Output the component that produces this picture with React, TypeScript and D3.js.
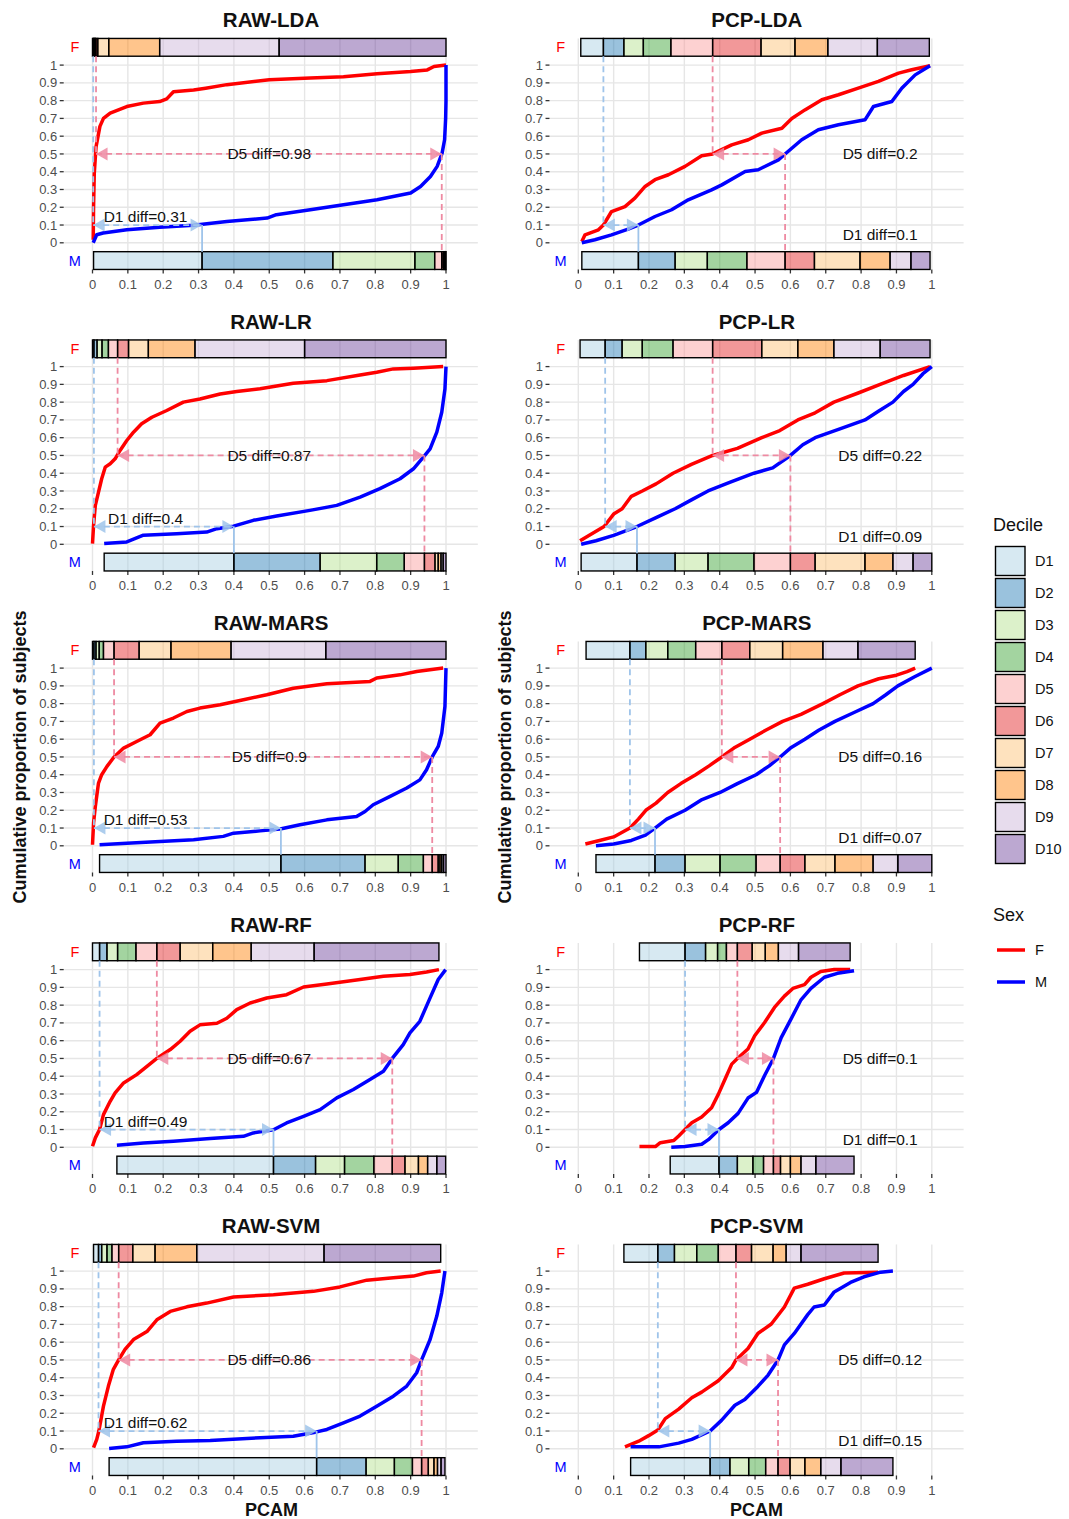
import React from "react";
import * as d3 from "d3";

type Pt = [number, number];

// ---------- values ----------
const decileLabels = ["D1", "D2", "D3", "D4", "D5", "D6", "D7", "D8", "D9", "D10"];
const decileColors = ["#A6CEE3", "#1F78B4", "#B2DF8A", "#33A02C", "#FB9A99", "#E31A1C", "#FDBF6F", "#FF7F00", "#CAB2D6", "#6A3D9A"];
const sexLabels = ["F", "M"];
const sexColors = ["#ff0000", "#0000ff"];
const tickValues = [0, 0.1, 0.2, 0.3, 0.4, 0.5, 0.6, 0.7, 0.8, 0.9, 1];
const tickLabels = ["0", "0.1", "0.2", "0.3", "0.4", "0.5", "0.6", "0.7", "0.8", "0.9", "1"];

const panelTitles = ["RAW-LDA", "PCP-LDA", "RAW-LR", "PCP-LR", "RAW-MARS", "PCP-MARS", "RAW-RF", "PCP-RF", "RAW-SVM", "PCP-SVM"];
const d1Diffs = ["0.31", "0.1", "0.4", "0.09", "0.53", "0.07", "0.49", "0.1", "0.62", "0.15"];
const d5Diffs = ["0.98", "0.2", "0.87", "0.22", "0.9", "0.16", "0.67", "0.1", "0.86", "0.12"];

// RAW-LDA
const rawLdaF: Pt[] = [[0.002, 0.017], [0.003, 0.2], [0.005, 0.39], [0.01, 0.54], [0.021, 0.655], [0.031, 0.7], [0.05, 0.73], [0.097, 0.767], [0.144, 0.786], [0.19, 0.795], [0.21, 0.81], [0.229, 0.85], [0.286, 0.86], [0.32, 0.87], [0.38, 0.89], [0.5, 0.917], [0.616, 0.927], [0.71, 0.935], [0.805, 0.951], [0.9, 0.964], [0.947, 0.973], [0.966, 0.992], [1.0, 1.0]];
const rawLdaM: Pt[] = [[0.002, 0.0], [0.012, 0.045], [0.03, 0.055], [0.097, 0.073], [0.19, 0.088], [0.286, 0.099], [0.38, 0.12], [0.494, 0.139], [0.52, 0.158], [0.616, 0.186], [0.71, 0.214], [0.805, 0.242], [0.9, 0.28], [0.928, 0.317], [0.956, 0.373], [0.975, 0.43], [0.989, 0.505], [0.996, 0.58], [0.999, 0.7], [1.0, 0.8], [1.0, 1.0]];
const rawLdaFDec = [0, 0.002, 0.004, 0.006, 0.008, 0.01, 0.015, 0.046, 0.19, 0.528, 1.0];
const rawLdaMDec = [0.003, 0.31, 0.68, 0.912, 0.968, 0.988, 0.992, 0.995, 0.997, 0.999, 1.0];

// PCP-LDA
const pcpLdaF: Pt[] = [[0.01, 0.007], [0.019, 0.045], [0.057, 0.073], [0.071, 0.1], [0.094, 0.176], [0.132, 0.204], [0.16, 0.251], [0.189, 0.317], [0.217, 0.355], [0.255, 0.383], [0.302, 0.43], [0.349, 0.49], [0.38, 0.5], [0.434, 0.551], [0.481, 0.58], [0.519, 0.617], [0.576, 0.645], [0.604, 0.7], [0.641, 0.748], [0.689, 0.805], [0.736, 0.833], [0.792, 0.87], [0.849, 0.908], [0.906, 0.955], [0.943, 0.974], [0.995, 0.996]];
const pcpLdaM: Pt[] = [[0.01, 0.0], [0.047, 0.017], [0.094, 0.045], [0.141, 0.077], [0.17, 0.1], [0.217, 0.148], [0.264, 0.186], [0.311, 0.242], [0.377, 0.298], [0.406, 0.326], [0.472, 0.401], [0.509, 0.411], [0.566, 0.467], [0.585, 0.5], [0.632, 0.58], [0.679, 0.636], [0.736, 0.664], [0.811, 0.692], [0.835, 0.767], [0.887, 0.795], [0.915, 0.87], [0.953, 0.945], [0.995, 0.996]];
const pcpLdaFDec = [0.007, 0.071, 0.129, 0.184, 0.262, 0.38, 0.517, 0.613, 0.706, 0.846, 0.993];
const pcpLdaMDec = [0.01, 0.17, 0.274, 0.365, 0.477, 0.585, 0.668, 0.797, 0.882, 0.941, 0.995];

// RAW-LR
const rawLrF: Pt[] = [[0.0, 0.004], [0.003, 0.107], [0.008, 0.219], [0.017, 0.294], [0.026, 0.369], [0.036, 0.434], [0.05, 0.453], [0.064, 0.481], [0.078, 0.528], [0.097, 0.584], [0.116, 0.631], [0.139, 0.678], [0.168, 0.715], [0.21, 0.753], [0.257, 0.8], [0.304, 0.818], [0.361, 0.846], [0.408, 0.86], [0.474, 0.875], [0.568, 0.906], [0.663, 0.921], [0.757, 0.953], [0.804, 0.968], [0.851, 0.987], [0.908, 0.991], [0.992, 1.0]];
const rawLrM: Pt[] = [[0.033, 0.004], [0.097, 0.013], [0.144, 0.051], [0.238, 0.06], [0.323, 0.069], [0.352, 0.088], [0.399, 0.102], [0.455, 0.135], [0.521, 0.159], [0.615, 0.191], [0.691, 0.219], [0.757, 0.266], [0.813, 0.313], [0.87, 0.369], [0.908, 0.425], [0.936, 0.491], [0.955, 0.537], [0.974, 0.631], [0.988, 0.743], [0.997, 0.874], [1.0, 1.0]];
const rawLrFDec = [0.0, 0.004, 0.013, 0.027, 0.045, 0.071, 0.102, 0.158, 0.29, 0.6, 1.0];
const rawLrMDec = [0.033, 0.4, 0.644, 0.804, 0.882, 0.939, 0.969, 0.978, 0.986, 0.992, 1.0];

// PCP-LR
const pcpLrF: Pt[] = [[0.005, 0.02], [0.03, 0.05], [0.073, 0.1], [0.1, 0.17], [0.124, 0.2], [0.15, 0.27], [0.181, 0.3], [0.22, 0.34], [0.268, 0.4], [0.32, 0.45], [0.38, 0.5], [0.45, 0.54], [0.519, 0.6], [0.57, 0.64], [0.621, 0.7], [0.67, 0.74], [0.723, 0.8], [0.79, 0.85], [0.854, 0.9], [0.92, 0.95], [0.995, 1.0]];
const pcpLrM: Pt[] = [[0.008, 0.0], [0.05, 0.02], [0.1, 0.05], [0.166, 0.1], [0.22, 0.15], [0.274, 0.2], [0.32, 0.25], [0.367, 0.3], [0.43, 0.35], [0.497, 0.4], [0.55, 0.43], [0.6, 0.5], [0.635, 0.56], [0.67, 0.6], [0.74, 0.65], [0.811, 0.7], [0.85, 0.75], [0.89, 0.8], [0.92, 0.86], [0.947, 0.9], [0.975, 0.96], [1.0, 1.0]];
const pcpLrFDec = [0.005, 0.076, 0.124, 0.181, 0.268, 0.38, 0.519, 0.621, 0.723, 0.854, 0.995];
const pcpLrMDec = [0.008, 0.166, 0.274, 0.367, 0.497, 0.6, 0.67, 0.811, 0.89, 0.947, 1.0];

// RAW-MARS
const rawMarsF: Pt[] = [[0.0, 0.006], [0.003, 0.128], [0.008, 0.221], [0.017, 0.353], [0.026, 0.4], [0.041, 0.447], [0.061, 0.5], [0.088, 0.55], [0.125, 0.587], [0.163, 0.625], [0.191, 0.69], [0.229, 0.719], [0.267, 0.756], [0.304, 0.775], [0.361, 0.794], [0.427, 0.822], [0.493, 0.85], [0.568, 0.887], [0.663, 0.912], [0.785, 0.925], [0.804, 0.944], [0.87, 0.962], [0.917, 0.981], [0.992, 1.0]];
const rawMarsM: Pt[] = [[0.02, 0.006], [0.097, 0.015], [0.191, 0.024], [0.286, 0.034], [0.37, 0.053], [0.399, 0.071], [0.474, 0.084], [0.531, 0.095], [0.587, 0.118], [0.663, 0.146], [0.747, 0.165], [0.771, 0.193], [0.794, 0.231], [0.842, 0.278], [0.889, 0.325], [0.926, 0.371], [0.945, 0.428], [0.961, 0.5], [0.978, 0.559], [0.988, 0.634], [0.997, 0.784], [1.0, 1.0]];
const rawMarsFDec = [0.0, 0.004, 0.01, 0.019, 0.031, 0.061, 0.132, 0.222, 0.392, 0.66, 1.0];
const rawMarsMDec = [0.02, 0.533, 0.771, 0.865, 0.936, 0.961, 0.978, 0.983, 0.988, 0.993, 1.0];

// PCP-MARS
const pcpMarsF: Pt[] = [[0.02, 0.01], [0.06, 0.03], [0.1, 0.05], [0.146, 0.1], [0.17, 0.15], [0.191, 0.2], [0.22, 0.24], [0.253, 0.3], [0.29, 0.35], [0.332, 0.4], [0.37, 0.45], [0.406, 0.5], [0.44, 0.55], [0.485, 0.6], [0.53, 0.65], [0.578, 0.7], [0.63, 0.74], [0.692, 0.8], [0.74, 0.85], [0.791, 0.9], [0.85, 0.94], [0.9, 0.96], [0.93, 0.98], [0.953, 1.0]];
const pcpMarsM: Pt[] = [[0.05, 0.0], [0.1, 0.01], [0.15, 0.03], [0.19, 0.06], [0.217, 0.1], [0.25, 0.15], [0.302, 0.2], [0.35, 0.26], [0.401, 0.3], [0.45, 0.35], [0.503, 0.4], [0.54, 0.45], [0.571, 0.5], [0.6, 0.55], [0.641, 0.6], [0.68, 0.65], [0.726, 0.7], [0.78, 0.75], [0.834, 0.8], [0.87, 0.85], [0.904, 0.9], [0.95, 0.95], [1.0, 1.0]];
const pcpMarsFDec = [0.022, 0.146, 0.191, 0.253, 0.332, 0.406, 0.485, 0.578, 0.692, 0.791, 0.953];
const pcpMarsMDec = [0.05, 0.217, 0.302, 0.401, 0.503, 0.571, 0.641, 0.726, 0.834, 0.904, 1.0];

// RAW-RF
const rawRfF: Pt[] = [[0.0, 0.006], [0.008, 0.053], [0.02, 0.1], [0.031, 0.184], [0.05, 0.259], [0.064, 0.306], [0.088, 0.362], [0.125, 0.409], [0.154, 0.456], [0.182, 0.5], [0.22, 0.55], [0.248, 0.597], [0.276, 0.653], [0.304, 0.689], [0.352, 0.698], [0.38, 0.726], [0.408, 0.775], [0.446, 0.812], [0.493, 0.84], [0.549, 0.859], [0.597, 0.902], [0.663, 0.919], [0.757, 0.944], [0.823, 0.962], [0.898, 0.972], [0.945, 0.987], [0.98, 1.0]];
const rawRfM: Pt[] = [[0.069, 0.011], [0.144, 0.024], [0.229, 0.034], [0.333, 0.049], [0.427, 0.062], [0.455, 0.081], [0.512, 0.099], [0.549, 0.137], [0.597, 0.174], [0.644, 0.212], [0.691, 0.278], [0.738, 0.325], [0.785, 0.381], [0.823, 0.428], [0.848, 0.5], [0.879, 0.578], [0.898, 0.644], [0.926, 0.709], [0.955, 0.841], [0.978, 0.944], [0.999, 1.0]];
const rawRfFDec = [0.0, 0.02, 0.041, 0.071, 0.123, 0.182, 0.248, 0.34, 0.449, 0.627, 0.98];
const rawRfMDec = [0.069, 0.512, 0.631, 0.713, 0.796, 0.848, 0.884, 0.922, 0.948, 0.974, 0.999];

// PCP-RF
const pcpRfF: Pt[] = [[0.173, 0.004], [0.218, 0.004], [0.232, 0.026], [0.27, 0.038], [0.284, 0.064], [0.302, 0.1], [0.321, 0.138], [0.349, 0.17], [0.377, 0.223], [0.396, 0.298], [0.415, 0.383], [0.434, 0.468], [0.45, 0.5], [0.48, 0.553], [0.499, 0.628], [0.527, 0.702], [0.555, 0.787], [0.583, 0.851], [0.607, 0.894], [0.64, 0.915], [0.658, 0.957], [0.686, 0.989], [0.724, 1.0], [0.769, 1.0]];
const pcpRfM: Pt[] = [[0.263, 0.0], [0.302, 0.004], [0.349, 0.017], [0.368, 0.043], [0.398, 0.1], [0.424, 0.138], [0.452, 0.191], [0.48, 0.277], [0.504, 0.309], [0.527, 0.404], [0.552, 0.5], [0.574, 0.617], [0.602, 0.723], [0.63, 0.83], [0.658, 0.894], [0.696, 0.957], [0.733, 0.979], [0.78, 0.994]];
const pcpRfFDec = [0.173, 0.302, 0.36, 0.394, 0.419, 0.45, 0.492, 0.529, 0.566, 0.623, 0.769];
const pcpRfMDec = [0.26, 0.398, 0.45, 0.494, 0.524, 0.552, 0.572, 0.6, 0.63, 0.672, 0.78];

// RAW-SVM
const rawSvmF: Pt[] = [[0.003, 0.006], [0.012, 0.053], [0.018, 0.1], [0.031, 0.24], [0.045, 0.353], [0.059, 0.447], [0.074, 0.5], [0.092, 0.559], [0.116, 0.615], [0.154, 0.66], [0.182, 0.726], [0.22, 0.773], [0.267, 0.799], [0.323, 0.82], [0.399, 0.854], [0.512, 0.867], [0.625, 0.886], [0.7, 0.911], [0.776, 0.949], [0.851, 0.962], [0.908, 0.972], [0.945, 0.991], [0.985, 1.0]];
const rawSvmM: Pt[] = [[0.047, 0.002], [0.097, 0.011], [0.144, 0.034], [0.238, 0.043], [0.333, 0.047], [0.474, 0.062], [0.568, 0.071], [0.634, 0.095], [0.663, 0.109], [0.71, 0.146], [0.757, 0.184], [0.804, 0.24], [0.851, 0.296], [0.889, 0.353], [0.917, 0.428], [0.931, 0.5], [0.955, 0.615], [0.974, 0.747], [0.988, 0.878], [0.997, 1.0]];
const rawSvmFDec = [0.003, 0.017, 0.026, 0.041, 0.055, 0.074, 0.114, 0.177, 0.295, 0.655, 0.985];
const rawSvmMDec = [0.047, 0.634, 0.774, 0.854, 0.905, 0.931, 0.95, 0.966, 0.976, 0.986, 0.997];

// PCP-SVM
const pcpSvmF: Pt[] = [[0.132, 0.011], [0.171, 0.043], [0.199, 0.074], [0.225, 0.106], [0.246, 0.17], [0.284, 0.223], [0.321, 0.287], [0.349, 0.319], [0.396, 0.383], [0.434, 0.457], [0.446, 0.5], [0.48, 0.564], [0.508, 0.649], [0.546, 0.702], [0.583, 0.798], [0.611, 0.904], [0.649, 0.926], [0.696, 0.957], [0.752, 0.989], [0.848, 0.994]];
const pcpSvmM: Pt[] = [[0.148, 0.011], [0.228, 0.011], [0.284, 0.032], [0.321, 0.053], [0.373, 0.1], [0.405, 0.16], [0.443, 0.245], [0.471, 0.277], [0.508, 0.351], [0.537, 0.415], [0.565, 0.5], [0.583, 0.585], [0.611, 0.649], [0.649, 0.755], [0.667, 0.798], [0.696, 0.809], [0.724, 0.883], [0.77, 0.936], [0.808, 0.968], [0.855, 0.994], [0.89, 1.0]];
const pcpSvmFDec = [0.129, 0.225, 0.272, 0.335, 0.396, 0.446, 0.49, 0.551, 0.588, 0.63, 0.848];
const pcpSvmMDec = [0.148, 0.373, 0.429, 0.482, 0.53, 0.565, 0.599, 0.641, 0.686, 0.743, 0.89];

const femaleCurves = [rawLdaF, pcpLdaF, rawLrF, pcpLrF, rawMarsF, pcpMarsF, rawRfF, pcpRfF, rawSvmF, pcpSvmF];
const maleCurves = [rawLdaM, pcpLdaM, rawLrM, pcpLrM, rawMarsM, pcpMarsM, rawRfM, pcpRfM, rawSvmM, pcpSvmM];
const femaleDeciles = [rawLdaFDec, pcpLdaFDec, rawLrFDec, pcpLrFDec, rawMarsFDec, pcpMarsFDec, rawRfFDec, pcpRfFDec, rawSvmFDec, pcpSvmFDec];
const maleDeciles = [rawLdaMDec, pcpLdaMDec, rawLrMDec, pcpLrMDec, rawMarsMDec, pcpMarsMDec, rawRfMDec, pcpRfMDec, rawSvmMDec, pcpSvmMDec];

// ---------- drawing ----------
const FONT = "'Liberation Sans', Arial, Helvetica, sans-serif";
const PINK = "#ee8aa2";
const LBLUE = "#9fc4ea";
const GRID = "#e6e6e6";

function DashArrow({ xa, xb, yy, color }: { xa: number; xb: number; yy: number; color: string }) {
  const dir = xb >= xa ? 1 : -1;
  const L = 11.5, W = 6.5;
  const headA = `${xa},${yy} ${xa + dir * L},${yy - W} ${xa + dir * L},${yy + W}`;
  const headB = `${xb},${yy} ${xb - dir * L},${yy - W} ${xb - dir * L},${yy + W}`;
  return (
    <g>
      <line x1={xa} x2={xb} y1={yy} y2={yy} stroke={color} strokeWidth={1.8} strokeDasharray="6,4" />
      <polygon points={headA} fill={color} opacity={0.85} />
      <polygon points={headB} fill={color} opacity={0.85} />
    </g>
  );
}

function Panel({ i }: { i: number }) {
  const col = i % 2;
  const row = Math.floor(i / 2);
  const isRaw = col === 0;
  const x0 = col === 0 ? 92.5 : 578.3;
  const x = d3.scaleLinear().domain([0, 1]).range([x0, x0 + 353.5]);
  const base = 242.8 + 301.5 * row;
  const y = d3.scaleLinear().domain([0, 1]).range([base, base - 177.7]);
  const left = x(-0.08), right = x(1.09), top = y(1.15), bottom = y(-0.15);
  const line = d3.line<Pt>().x((d) => x(d[0])).y((d) => y(d[1]));
  const fDec = femaleDeciles[i];
  const mDec = maleDeciles[i];
  const fq1 = fDec[1], fq5 = fDec[5], mq1 = mDec[1], mq5 = mDec[5];

  const bar = (dec: number[], yTop: number, yBot: number) =>
    decileColors.map((c, k) => (
      <rect key={k} x={x(dec[k])} y={y(yTop)} width={Math.max(0, x(dec[k + 1]) - x(dec[k]))}
        height={y(yBot) - y(yTop)} fill={c} fillOpacity={0.45} stroke="#000" strokeWidth={1.4} />
    ));

  const d5Pos: Pt = isRaw ? [0.5, 0.5] : [0.854, 0.5];
  const d1Pos: Pt = isRaw ? [0.15, 0.145] : [0.854, 0.045];

  return (
    <g fontFamily={FONT}>
      {/* grid */}
      {tickValues.map((t) => (
        <line key={"v" + t} x1={x(t)} x2={x(t)} y1={top} y2={bottom} stroke={GRID} strokeWidth={1.4} />
      ))}
      {tickValues.map((t) => (
        <line key={"h" + t} x1={left} x2={right} y1={y(t)} y2={y(t)} stroke={GRID} strokeWidth={1.4} />
      ))}
      {/* axes */}
      {tickValues.map((t, k) => (
        <g key={"yt" + t}>
          <line x1={left - 4.5} x2={left - 0.5} y1={y(t)} y2={y(t)} stroke="#333" strokeWidth={1.3} />
          <text x={left - 7} y={y(t)} dy="0.35em" textAnchor="end" fontSize={13} fill="#4d4d4d">{tickLabels[k]}</text>
        </g>
      ))}
      {tickValues.map((t, k) => (
        <g key={"xt" + t}>
          <line x1={x(t)} x2={x(t)} y1={bottom} y2={bottom + 4} stroke="#333" strokeWidth={1.3} />
          <text x={x(t)} y={bottom + 14.5} dy="0.35em" textAnchor="middle" fontSize={13} fill="#4d4d4d">{tickLabels[k]}</text>
        </g>
      ))}
      {/* title */}
      <text x={(left + right) / 2} y={top - 11} textAnchor="middle" fontSize={20.5} fontWeight="bold" fill="#111">{panelTitles[i]}</text>
      {/* decile bars */}
      {bar(fDec, 1.15, 1.05)}
      {bar(mDec, -0.05, -0.15)}
      <text x={x(-0.05)} y={y(1.1)} dy="0.35em" textAnchor="middle" fontSize={14.5} fill={sexColors[0]}>{sexLabels[0]}</text>
      <text x={x(-0.05)} y={y(-0.1)} dy="0.35em" textAnchor="middle" fontSize={14.5} fill={sexColors[1]}>{sexLabels[1]}</text>
      {/* curves */}
      <path d={line(femaleCurves[i]) ?? ""} fill="none" stroke={sexColors[0]} strokeWidth={3.5} strokeLinejoin="round" />
      <path d={line(maleCurves[i]) ?? ""} fill="none" stroke={sexColors[1]} strokeWidth={3.5} strokeLinejoin="round" />
      {/* decile guides */}
      <line x1={x(fq1)} x2={x(fq1)} y1={y(1.05)} y2={y(0.1)} stroke={LBLUE} strokeWidth={1.8} strokeDasharray="6,4" />
      <line x1={x(fq5)} x2={x(fq5)} y1={y(1.05)} y2={y(0.5)} stroke={PINK} strokeWidth={1.8} strokeDasharray="6,4" />
      <line x1={x(mq1)} x2={x(mq1)} y1={y(0.1)} y2={y(-0.05)} stroke={LBLUE} strokeWidth={1.8} />
      <line x1={x(mq5)} x2={x(mq5)} y1={y(0.5)} y2={y(-0.05)} stroke={PINK} strokeWidth={1.8} strokeDasharray="6,4" />
      <DashArrow xa={x(fq1)} xb={x(mq1)} yy={y(0.1)} color={LBLUE} />
      <DashArrow xa={x(fq5)} xb={x(mq5)} yy={y(0.5)} color={PINK} />
      <text x={x(d5Pos[0])} y={y(d5Pos[1])} dy="0.35em" textAnchor="middle" fontSize={15.5} fill="#111">{`D5 diff=${d5Diffs[i]}`}</text>
      <text x={x(d1Pos[0])} y={y(d1Pos[1])} dy="0.35em" textAnchor="middle" fontSize={15.5} fill="#111">{`D1 diff=${d1Diffs[i]}`}</text>
    </g>
  );
}

export default function App() {
  return (
    <svg width={1069} height={1519} style={{ position: "absolute", left: 0, top: 0, background: "#fff", display: "block" }}>
      {panelTitles.map((_, i) => (
        <Panel key={i} i={i} />
      ))}
      <g fontFamily={FONT}>
        <text transform="translate(20,757) rotate(-90)" textAnchor="middle" dy="0.35em" fontSize={18} fontWeight="bold" fill="#111">Cumulative proportion of subjects</text>
        <text transform="translate(505,757) rotate(-90)" textAnchor="middle" dy="0.35em" fontSize={18} fontWeight="bold" fill="#111">Cumulative proportion of subjects</text>
        <text x={271.5} y={1510} dy="0.35em" textAnchor="middle" fontSize={18} fontWeight="bold" fill="#111">PCAM</text>
        <text x={756.5} y={1510} dy="0.35em" textAnchor="middle" fontSize={18} fontWeight="bold" fill="#111">PCAM</text>
        {/* legend */}
        <text x={993} y={525} dy="0.35em" fontSize={18} fill="#111">Decile</text>
        {decileLabels.map((lab, k) => (
          <g key={lab}>
            <rect x={995.5} y={546.5 + 32 * k} width={29.5} height={29} fill={decileColors[k]} fillOpacity={0.45} stroke="#000" strokeWidth={1.4} />
            <text x={1035} y={561 + 32 * k} dy="0.35em" fontSize={14.5} fill="#111">{lab}</text>
          </g>
        ))}
        <text x={993} y={915} dy="0.35em" fontSize={18} fill="#111">Sex</text>
        {sexLabels.map((lab, k) => (
          <g key={lab}>
            <line x1={997} x2={1025} y1={950 + 32 * k} y2={950 + 32 * k} stroke={sexColors[k]} strokeWidth={3.5} />
            <text x={1035} y={950 + 32 * k} dy="0.35em" fontSize={14.5} fill="#111">{lab}</text>
          </g>
        ))}
      </g>
    </svg>
  );
}
